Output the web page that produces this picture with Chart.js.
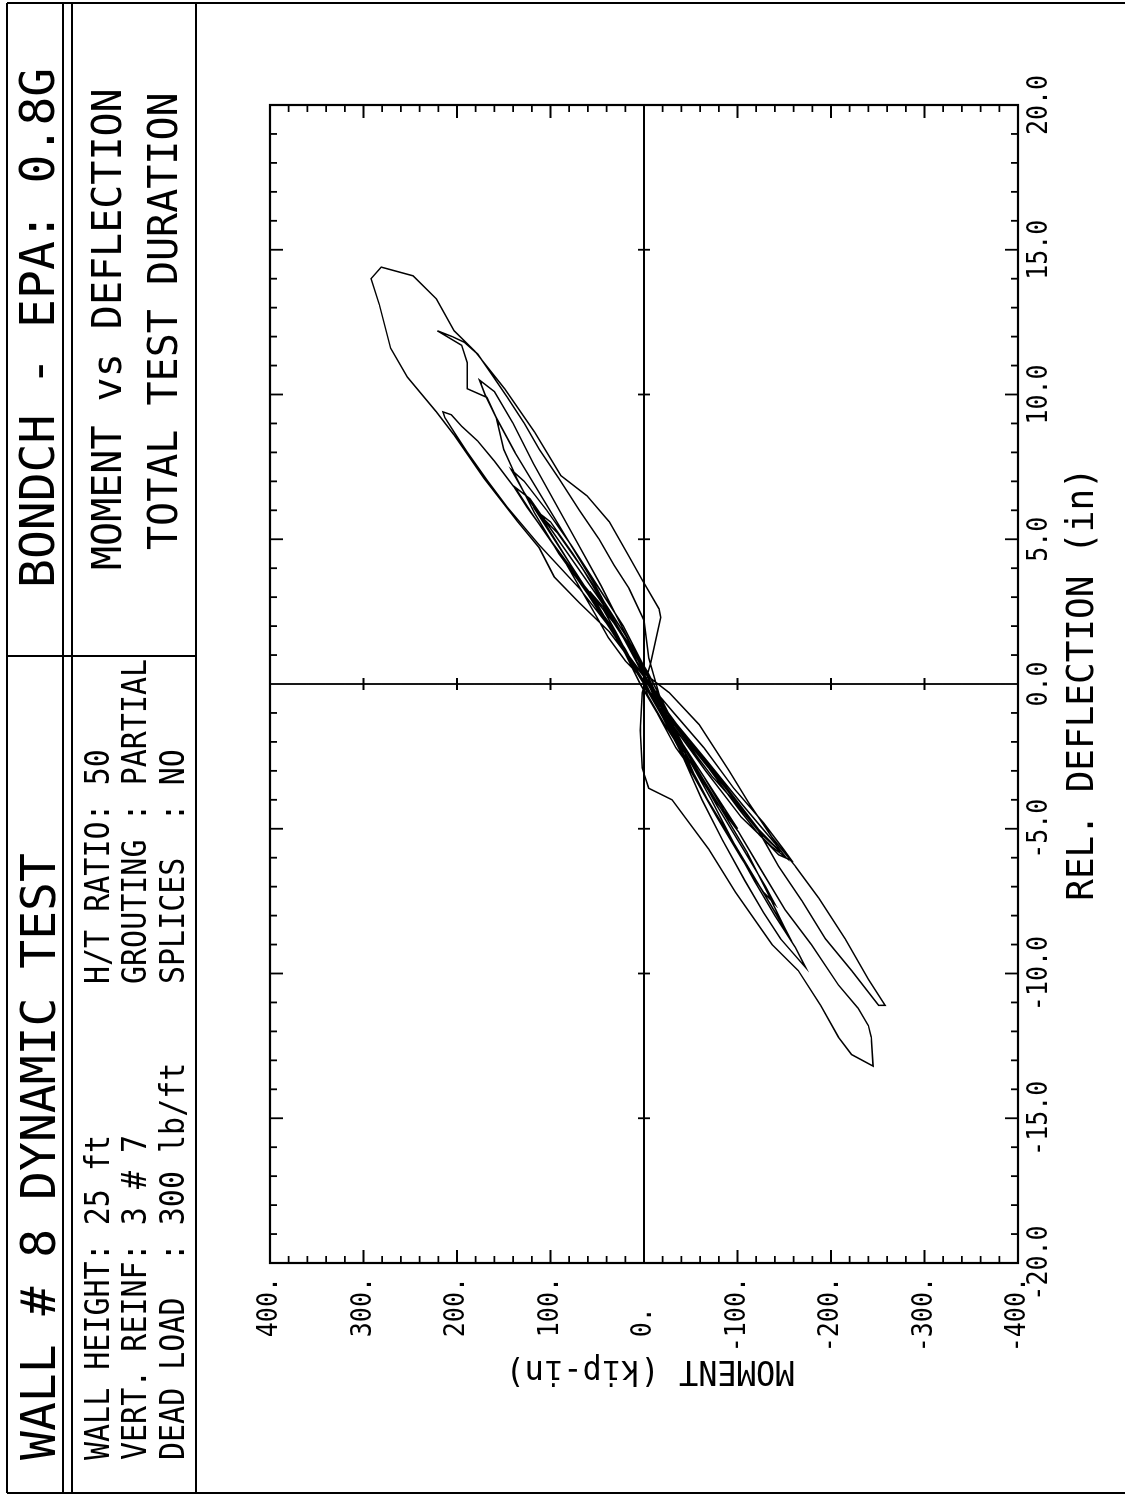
<!DOCTYPE html>
<html lang="en">
<head>
<meta charset="UTF-8" />
<title>Wall 8 Dynamic Test - Moment vs Deflection</title>
<script src="https://cdn.jsdelivr.net/npm/chart.js"></script>
<style>
  body { margin: 0; background: #fff; width: 1125px; height: 1495px; overflow: hidden; position: relative; }
  /* the plot sheet is laid out upright and turned onto the page */
  #sheet { position: absolute; left: 0; top: 0; width: 1495px; height: 1125px;
           transform-origin: 0 0; transform: translateY(1495px) rotate(-90deg); }
  #chart { position: absolute; left: 0; top: 0; }
  .rule { position: absolute; background: #000; }
  .txt { position: absolute; font-family: "DejaVu Sans Mono", monospace; white-space: pre;
         line-height: 1; color: #000; transform-origin: 0 0.48em; }
  .big { font-size: 48px; }
  .mid { font-size: 40px; }
  .small { font-size: 30px; transform: scaleY(1.14); }
</style>
</head>
<body>

<div id="sheet">
  <canvas id="chart" width="1495" height="1125"></canvas>

  <!-- sheet border and title block -->
  <div class="rule" style="left:1px;top:7px;width:2px;height:1118px"></div>
  <div class="rule" style="left:1491px;top:7px;width:2px;height:1118px"></div>
  <div class="rule" style="left:2px;top:6px;width:1490px;height:2px"></div>
  <div class="rule" style="left:2px;top:62px;width:1490px;height:2px"></div>
  <div class="rule" style="left:2px;top:71px;width:1490px;height:2px"></div>
  <div class="rule" style="left:2px;top:195px;width:1490px;height:2px"></div>
  <div class="rule" style="left:838px;top:7px;width:2px;height:189px"></div>

  <div class="txt big" style="left:35px;top:14px">WALL # 8 DYNAMIC TEST</div>
  <div class="txt big" style="left:907px;top:13px">BONDCH - EPA: 0.8G</div>

  <div class="txt small" style="left:35px;top:83px">WALL HEIGHT: 25 ft</div>
  <div class="txt small" style="left:35px;top:120px">VERT. REINF: 3 # 7</div>
  <div class="txt small" style="left:35px;top:158px">DEAD LOAD  : 300 lb/ft</div>

  <div class="txt small" style="left:511px;top:83px">H/T RATIO: 50</div>
  <div class="txt small" style="left:511px;top:120px">GROUTING : PARTIAL</div>
  <div class="txt small" style="left:511px;top:158px">SPLICES  : NO</div>

  <div class="txt mid" style="left:925px;top:87px">MOMENT vs DEFLECTION</div>
  <div class="txt mid" style="left:945px;top:143px">TOTAL TEST DURATION</div>
</div>

<script>
  // axis ranges and tick labels
  const deflTicks = [-20, -15, -10, -5, 0, 5, 10, 15, 20];
  const deflLabels = ['-20.0', '-15.0', '-10.0', '-5.0', '0.0', '5.0', '10.0', '15.0', '20.0'];
  const momentTicks = [400, 300, 200, 100, 0, -100, -200, -300, -400];
  const momentLabels = ['400.', '300.', '200.', '100.', '0.', '-100.', '-200.', '-300.', '-400.'];
  const deflMinor = 1;
  const momentMinor = 20;

  // recorded response, relative deflection (in)
  const deflection = [
    0, 0.8, 1.8, 2.6, 2.2, 1.0, 0.0, -1.2, -2.4, -3.0, -2.2, -1.0, 0.0,
    1.3, 2.7, 4.0, 5.2, 6.0, 5.6, 4.5, 3.2, 1.8, 0.4, -1.0, -2.4, -3.8, -5.2, -5.8, -5.0, -3.4, -1.8, -0.4,
    1.55, 3.3, 4.8, 6.1, 7.0, 8.0, 8.7, 9.2, 9.4, 9.3, 8.9, 8.4, 7.7, 6.8, 6.1, 4.8, 3.4, 2.1, 0.9,
    -0.2, -1.6, -2.9, -4.3, -5.2, -5.9, -6.1, -5.7, -4.8, -3.6, -2.2, -1.0, -0.2,
    0.9, 2.1, 3.3, 4.5, 5.9, 7.1, 8.1, 9.2, 9.9, 10.2, 11.1, 11.7, 12.2, 12.0, 11.8, 11.4, 10.7, 9.9,
    9.0, 8.1, 7.1, 6.0, 5.0, 4.1, 3.3, 2.2, 0.9, -0.9, -2.6, -3.2, -4.1, -5.1, -6.3, -7.5, -8.8, -9.9,
    -11.1, -11.1, -10.2, -8.8, -7.4, -6.3, -5.3, -4.1, -3.0, -1.4, -0.3,
    0.6, 1.8, 2.8, 3.7, 4.7, 5.6, 7.1, 8.6, 9.4, 10.6, 11.6, 13.1, 14.0, 14.4, 14.1, 13.3, 12.2, 11.5,
    10.2, 8.7, 7.2, 6.5, 5.6, 4.4, 3.6, 2.6, 2.3, 1.6, 0.7, -0.3, -1.6, -2.9, -3.6, -4.0, -5.7, -7.2,
    -9.0, -9.9, -11.1, -12.2, -12.8, -13.2, -12.2, -11.8, -11.2, -10.4, -9.0, -7.8, -6.3, -5.1, -3.9,
    -2.6, -1.2, -0.3,
    1.2, 2.8, 4.2, 5.5, 6.6, 7.4, 7.0, 6.0, 4.8, 3.4, 2.0, 0.6, -1.0, -2.4, -4.0, -5.4, -6.8, -7.9,
    -8.8, -9.8, -9.1, -8.0, -6.8, -5.5, -4.0, -2.6, -1.2, 0.0,
    1.4, 3.0, 4.4, 5.8, 6.8, 6.4, 5.0, 3.6, 2.2, 0.8, -0.8, -2.4, -4.0, -5.6, -7.0, -8.2, -8.9, -8.4,
    -7.2, -5.8, -4.4, -3.0, -1.6, -0.2,
    1.6, 3.4, 5.0, 6.6, 8.0, 9.2, 10.0, 10.5, 10.1, 9.0, 7.6, 6.2, 4.8, 3.4, 2.0, 0.6, -1.0, -2.6,
    -4.2, -5.8, -7.0, -7.6, -7.2, -6.0, -4.6, -3.0, -1.4, 0.0,
    1.2, 2.6, 3.8, 5.0, 5.8, 5.2, 4.0, 2.8, 1.4, 0.0, -1.4, -3.0, -4.6, -5.6, -6.0, -5.5, -4.2, -2.6,
    -1.2, 0.0,
    0.8, 1.6, 2.4, 3.4, 4.2, 3.6, 2.6, 1.6, 0.6, -0.6, -1.8, -3.0, -4.2, -5.0, -4.4, -3.2, -2.0, -0.8,
    0.0,
    1.0, 2.2, 3.2, 2.6, 1.4, 0.2, -1.0, -2.0, -1.4, -0.4, 0.2
  ];

  // base moment (kip-in), same samples
  const moment = [
    0, 14, 30, 44, 32, 12, -6, -24, -44, -52, -34, -14, 4,
    24, 50, 76, 100, 116, 100, 76, 50, 22, -4, -26, -58, -92, -126, -146, -122, -84, -44, -8,
    27, 69, 112, 146, 167, 189, 203, 213, 215, 206, 195, 178, 160, 139, 125, 96, 64, 32, 5,
    -11, -37, -69, -101, -123, -144, -158, -149, -128, -96, -64, -32, -11,
    16, 37, 64, 91, 117, 136, 150, 158, 168, 189, 189, 195, 221, 205, 192, 178, 163, 146,
    128, 112, 91, 69, 48, 32, 16, 0, -5, -21, -59, -73, -98, -123, -144, -169, -194, -222,
    -251, -258, -240, -215, -187, -162, -137, -112, -91, -59, -27,
    9, 37, 69, 96, 112, 135, 171, 203, 222, 253, 271, 283, 292, 281, 247, 222, 203, 181,
    149, 117, 89, 61, 37, 16, 2, -16, -18, -13, -7, 2, 4, 2, -5, -30, -69, -98,
    -137, -165, -189, -208, -222, -245, -243, -240, -229, -208, -179, -151, -123, -101, -73,
    -48, -21, -5,
    20, 52, 80, 105, 128, 142, 128, 104, 78, 50, 22, 0, -18, -40, -62, -84, -108, -128,
    -146, -173, -162, -140, -118, -96, -72, -48, -26, -6,
    26, 58, 88, 118, 138, 122, 92, 62, 32, 6, -16, -42, -68, -98, -124, -146, -158, -150,
    -132, -110, -84, -58, -32, -8,
    22, 52, 82, 112, 138, 158, 170, 176, 160, 140, 118, 94, 70, 46, 24, 2, -24, -50,
    -78, -108, -130, -140, -128, -104, -78, -50, -24, -2,
    22, 48, 72, 96, 110, 92, 66, 44, 18, -4, -30, -66, -104, -136, -152, -140, -106, -66,
    -30, -4,
    20, 38, 52, 70, 84, 70, 50, 30, 12, -12, -36, -60, -84, -100, -86, -64, -40, -18,
    0,
    18, 40, 58, 42, 18, -2, -18, -34, -22, -4, 2
  ];

  const points = deflection.map((d, i) => ({ x: d, y: moment[i] }));

  const FONT = '"DejaVu Sans Mono", monospace';

  function drawText(ctx, s, px, py, align, sy) {
    ctx.save();
    ctx.translate(px, py);
    ctx.scale(1, sy);
    ctx.textAlign = align;
    ctx.textBaseline = 'middle';
    ctx.fillText(s, 0, 0);
    ctx.restore();
  }

  // plotter style frame: box, zero axes and inward ticks
  const plotFrame = {
    id: 'plotFrame',
    beforeDatasetsDraw(chart) {
      const { ctx, chartArea: a, scales: { x, y } } = chart;
      const x0 = x.getPixelForValue(0);
      const y0 = y.getPixelForValue(0);
      ctx.save();
      ctx.strokeStyle = '#000';
      ctx.lineWidth = 2.2;
      ctx.strokeRect(a.left, a.top, a.right - a.left, a.bottom - a.top);

      ctx.lineWidth = 1.8;
      ctx.beginPath();
      ctx.moveTo(x0, a.top); ctx.lineTo(x0, a.bottom);
      ctx.moveTo(a.left, y0); ctx.lineTo(a.right, y0);

      for (let d = x.min; d <= x.max; d += deflMinor) {
        const px = x.getPixelForValue(d);
        const major = deflTicks.includes(d);
        const len = major ? 13 : 7;
        ctx.moveTo(px, a.top); ctx.lineTo(px, a.top + len);
        ctx.moveTo(px, a.bottom); ctx.lineTo(px, a.bottom - len);
        if (major && d !== 0 && Math.abs(d) !== x.max) {
          ctx.moveTo(px, y0 - 6); ctx.lineTo(px, y0 + 6);
        }
      }
      for (let m = y.min; m <= y.max; m += momentMinor) {
        const py = y.getPixelForValue(m);
        const major = momentTicks.includes(m);
        const len = major ? 13 : 7;
        ctx.moveTo(a.left, py); ctx.lineTo(a.left + len, py);
        ctx.moveTo(a.right, py); ctx.lineTo(a.right - len, py);
        if (major && m !== 0 && Math.abs(m) !== y.max) {
          ctx.moveTo(x0 - 6, py); ctx.lineTo(x0 + 6, py);
        }
      }
      ctx.stroke();
      ctx.restore();
    },
    afterDraw(chart) {
      const { ctx, chartArea: a, scales: { x, y } } = chart;
      ctx.save();
      ctx.fillStyle = '#000';
      ctx.font = '25px ' + FONT;

      const labelRight = a.left - 14;
      const wide = ctx.measureText('400.').width;
      momentTicks.forEach((m, i) => {
        const py = y.getPixelForValue(m);
        const s = momentLabels[i];
        if (m === 0) drawText(ctx, s, labelRight - wide, py, 'left', 1.12);
        else drawText(ctx, s, labelRight, py, 'right', 1.12);
      });
      deflTicks.forEach((d, i) => {
        drawText(ctx, deflLabels[i], x.getPixelForValue(d), a.bottom + 22, 'center', 1.12);
      });

      ctx.font = '36px ' + FONT;
      drawText(ctx, 'REL. DEFLECTION (in)', (a.left + a.right) / 2, a.bottom + 65, 'center', 1.05);

      ctx.font = '32px ' + FONT;
      ctx.translate(125, (a.top + a.bottom) / 2 + 6);
      ctx.rotate(-Math.PI / 2);
      drawText(ctx, 'MOMENT (kip-in)', 0, 0, 'center', 1.05);
      ctx.restore();
    }
  };

  new Chart(document.getElementById('chart').getContext('2d'), {
    type: 'scatter',
    data: {
      datasets: [{
        data: points,
        showLine: true,
        borderColor: '#000',
        borderWidth: 1.5,
        pointRadius: 0,
        fill: false,
        tension: 0
      }]
    },
    options: {
      responsive: false,
      animation: false,
      devicePixelRatio: 1,
      layout: { padding: { left: 232, right: 105, top: 270, bottom: 107 } },
      scales: {
        x: { type: 'linear', min: -20, max: 20, display: false },
        y: { type: 'linear', min: -400, max: 400, display: false }
      },
      plugins: { legend: { display: false }, tooltip: { enabled: false } }
    },
    plugins: [plotFrame]
  });
</script>

</body>
</html>
